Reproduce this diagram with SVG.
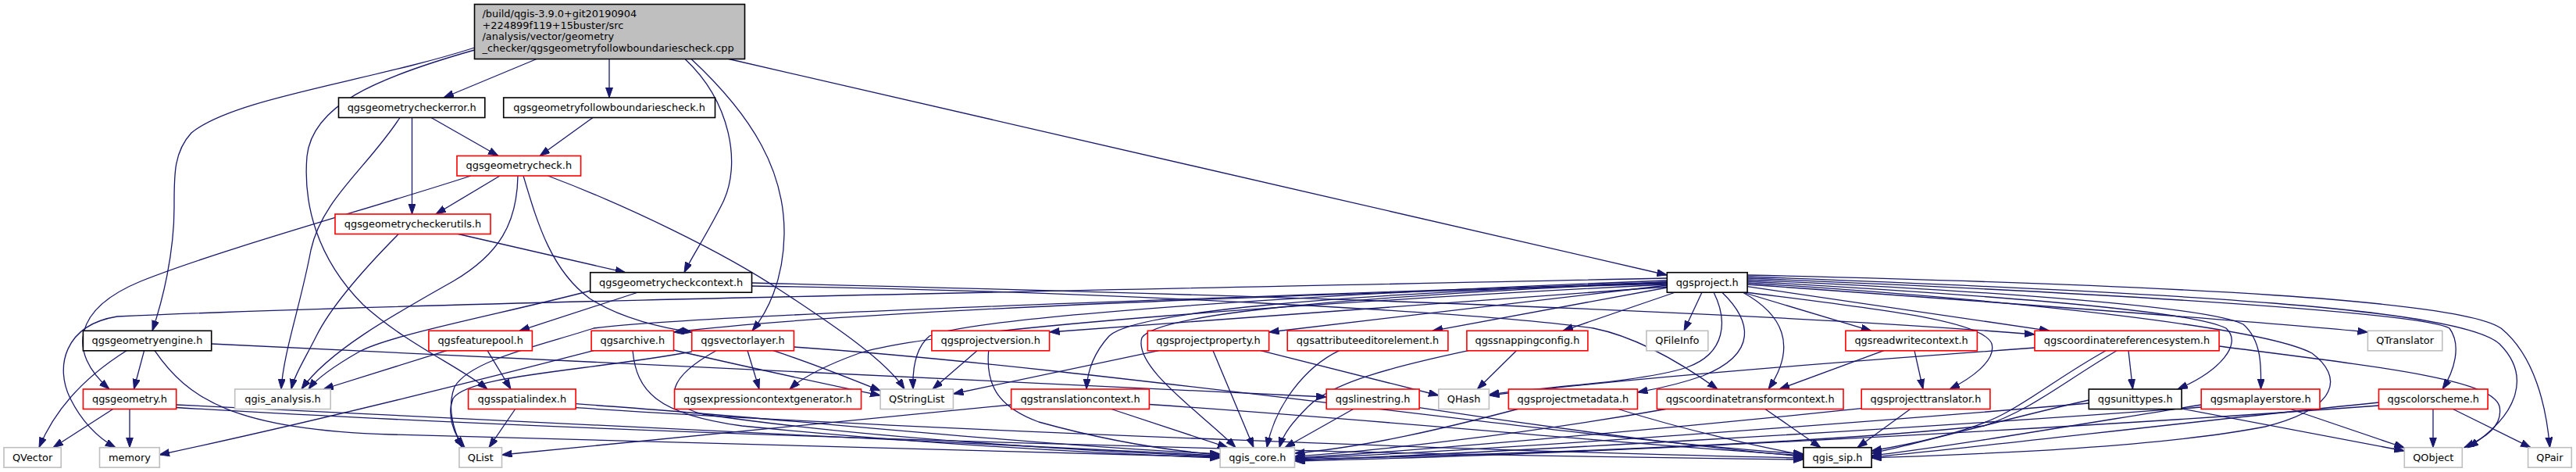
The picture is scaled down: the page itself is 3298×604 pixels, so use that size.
<svg xmlns="http://www.w3.org/2000/svg" width="3298" height="604" viewBox="0 0 3298 604">
<defs>
<style>
.n rect{fill:#fff;stroke-width:1.6}
.b rect{stroke:#000}
.r rect{stroke:#ff0000}
.g rect{stroke:#bfbfbf}
text{font-family:"DejaVu Sans",sans-serif;font-size:12.9px;fill:#000;text-anchor:middle}
.e path{fill:none;stroke:#191970;stroke-width:1.3;marker-end:url(#a)}
</style>
<marker id="a" markerUnits="userSpaceOnUse" markerWidth="15" markerHeight="11" refX="13" refY="4.5" orient="auto"><path d="M0,0 L13,4.5 L0,9 z" fill="#191970" stroke="#191970" stroke-width="1"/></marker>
</defs>
<rect width="3298" height="604" fill="#fff"/>
<g class="e" id="edges">
<path d="M687,75.5 L568,125"/>
<path d="M780,75.5 L780,125"/>
<path d="M607.5,61 C470,105 300,125 245,170 C222,195 223,225 223,265 C223,325 208,385 195,423.3"/>
<path d="M607.5,64 C480,100 400,135 393,200 C388,260 405,330 465,390 C520,440 590,470 624,498"/>
<path d="M877,75.5 C935,130 950,210 925,260 C905,300 885,330 876,348.7"/>
<path d="M885,75.5 C965,150 1005,220 1004,300 C1003,360 982,400 963,423.3"/>
<path d="M933,75.5 L2134.3,352"/>
<path d="M512,150.5 C470,215 412,255 398,320 C385,390 363,450 360,498"/>
<path d="M527.5,150.5 L527.5,274"/>
<path d="M552,150.5 L638,199.5"/>
<path d="M759,150.5 L691,199.5"/>
<path d="M603,225 C480,265 280,320 180,360 C95,395 85,450 140,498"/>
<path d="M640,225 L558,274"/>
<path d="M663,225 C662,285 640,325 580,360 C500,405 420,450 386,498"/>
<path d="M670,225 C688,285 705,345 755,382 C795,408 850,420 886,425"/>
<path d="M701.5,225 C800,262 925,322 1000,372 C1070,418 1135,462 1158,498"/>
<path d="M510.7,299 C470,340 425,390 405,430 C390,460 377,480 373,498"/>
<path d="M584.6,299 L800.7,348.7"/>
<path d="M756,372 C650,400 500,428 460,450 C425,470 405,485 395,498"/>
<path d="M817,374 L665,423.3"/>
<path d="M962.5,362 C1500,375 2200,395 2605,428"/>
<path d="M962.5,366 C1400,372 1900,400 2040,420 C2100,432 2160,470 2199,498"/>
<path d="M162,448.7 C112,480 72,520 50,572.7"/>
<path d="M184.6,448.7 L171.4,498"/>
<path d="M198,448.7 C240,510 300,550 500,556 C900,566 1300,579 1562,585"/>
<path d="M270.7,440 L1698.2,508"/>
<path d="M144.6,523.5 L68,572.7"/>
<path d="M166,523.5 L166,572.7"/>
<path d="M225.7,518 C700,540 1200,568 1562,583"/>
<path d="M225.7,521.5 C900,562 1900,584 2309,588"/>
<path d="M572,448.7 L414,498"/>
<path d="M624,448.7 L654,498"/>
<path d="M760,448.7 C600,490 400,540 204,582"/>
<path d="M862.5,448 C950,468 1050,490 1127.1,506"/>
<path d="M810,448.7 C815,500 840,530 950,545 C1200,570 1400,580 1562,586"/>
<path d="M957,448.7 L972,498"/>
<path d="M885.7,450 C750,475 600,480 580,510 C572,530 580,555 595,572.7"/>
<path d="M990,448.7 C1040,465 1090,485 1127.1,500"/>
<path d="M916.8,448.7 C860,480 840,515 900,530 C1100,560 1400,578 1562,584"/>
<path d="M1016.4,444 C1400,470 2000,560 2309,581"/>
<path d="M659.6,523.5 L626,572.7"/>
<path d="M737,516.7 C1000,535 1300,568 1562,581"/>
<path d="M737,521.7 C1200,552 2000,580 2309,586"/>
<path d="M1294.6,518 C1000,545 800,566 642.5,582"/>
<path d="M1422.9,523.5 L1572,572.7"/>
<path d="M1471.4,517.5 C1800,540 2100,570 2309,583"/>
<path d="M1251,448.7 L1194,498"/>
<path d="M1265.7,448.7 C1262,490 1275,520 1330,540 C1420,565 1500,577 1562,582"/>
<path d="M1483.6,448.7 L1220.4,504"/>
<path d="M1553,448.7 L1605,572.7"/>
<path d="M1614,448.7 L1841.8,506"/>
<path d="M1714.6,448.7 C1670,470 1632,520 1622,572.7"/>
<path d="M1880,448.7 C1780,470 1705,490 1675,520 C1655,540 1643,555 1638,572.7"/>
<path d="M1941.4,448.7 L1891.4,498"/>
<path d="M1732.5,523.5 L1645,572.7"/>
<path d="M1817,521.7 C2000,550 2200,575 2309,584"/>
<path d="M1943,523.5 C1850,548 1750,572 1657.5,580"/>
<path d="M2071.8,523.5 C2150,548 2250,572 2309,582"/>
<path d="M2132.5,523.5 C1950,556 1750,578 1657.5,584"/>
<path d="M2260,523.5 L2331,572.7"/>
<path d="M2383,522.7 C2100,552 1800,578 1657.5,586"/>
<path d="M2445.7,523.5 L2378,572.7"/>
<path d="M2411.8,448.7 L2278,498"/>
<path d="M2451,448.7 L2462,498"/>
<path d="M2725,448.7 L2730.5,498"/>
<path d="M2841,443 C3050,470 3190,485 3200,520 C3205,545 3182,560 3155,572.7"/>
<path d="M2605,445 C2400,460 2100,482 1906.4,506"/>
<path d="M2696,448.7 C2640,480 2610,505 2570,527 C2530,550 2460,566 2396,577"/>
<path d="M2710,448.7 C2640,490 2600,525 2540,545 C2300,570 1900,582 1657.5,588"/>
<path d="M2793,523 L3078.3,577"/>
<path d="M2674.3,512 C2550,540 2450,570 2396,580"/>
<path d="M2674.3,516 C2300,548 1900,576 1657.5,587"/>
<path d="M2932.6,523.5 L3078.3,573"/>
<path d="M2818.2,518 C2650,545 2480,574 2396,583"/>
<path d="M2818.2,521 C2400,552 1900,580 1657.5,589"/>
<path d="M3115,523.5 L3115,572.7"/>
<path d="M3140.5,523.5 L3240,572.7"/>
<path d="M3045.5,515 C2800,540 2500,576 2396,585"/>
<path d="M3045.5,519 C2600,552 2000,582 1657.5,590"/>
<path d="M2134.3,367 L1343.6,425"/>
<path d="M2134.3,365 L1624.6,425"/>
<path d="M2134.3,368 L1834,423.3"/>
<path d="M2145,374 L2001,423.3"/>
<path d="M2179,374 L2156,423.3"/>
<path d="M2194,374 C2212,410 2210,452 2160,470 C2100,490 1960,496 1906.4,505"/>
<path d="M2204.6,374 C2242,410 2252,452 2180,481 C2140,495 2112,499 2096.4,502"/>
<path d="M2231,374 C2282,402 2302,442 2264,498"/>
<path d="M2231,374 L2395.7,423.3"/>
<path d="M2235,374 C2400,395 2540,410 2550,440 C2556,462 2522,485 2496,498"/>
<path d="M2237,366.7 L2624,423.3"/>
<path d="M2237,360 C2500,375 2800,395 2850,420 C2872,440 2842,475 2788,498"/>
<path d="M2237,358 C2500,370 2822,390 2872,415 C2896,436 2895,470 2894.5,498"/>
<path d="M2237,362 C2600,385 2900,420 2960,452 C3000,482 2995,522 2900,546 C2750,575 2500,582 2396,586"/>
<path d="M2237,364 C2600,390 2900,412 3031.4,425"/>
<path d="M2237,356 C2700,375 3100,400 3136,420 C3152,442 3142,475 3127,498"/>
<path d="M2237,354 C2800,375 3150,395 3200,440 C3240,480 3226,530 3160,572.7"/>
<path d="M2237,352 C2800,365 3152,385 3202,420 C3245,455 3260,520 3264.5,572.7"/>
<path d="M2134.3,356 C1500,370 600,385 150,405 C82,416 70,470 90,510 C105,540 125,560 148,572.7"/>
<path d="M2134.3,363 C1700,376 1100,396 862.5,425"/>
<path d="M2134.3,361 C1600,380 900,402 760,420 C700,440 602,460 582,495 C572,520 580,550 592,572.7"/>
<path d="M2134.3,364 C1700,386 1200,420 1100,452 C1050,470 1025,485 1011,498"/>
<path d="M2134.3,359 C1700,375 1250,405 1190,430 C1172,445 1168,470 1169,498"/>
<path d="M2134.3,362 C1700,376 1450,400 1420,430 C1400,452 1392,476 1391,498"/>
<path d="M2134.3,361 C1700,381 1482,402 1462,432 C1450,470 1540,530 1582,572.7"/>
</g>
<g id="n_root"><rect x="607.5" y="5.5" width="346" height="70" fill="#bfbfbf" stroke="#000" stroke-width="1.6"/>
<text x="617.5" y="21.8" style="text-anchor:start">/build/qgis-3.9.0+git20190904</text>
<text x="617.5" y="36.5" style="text-anchor:start">+224899f119+15buster/src</text>
<text x="617.5" y="51.2" style="text-anchor:start">/analysis/vector/geometry</text>
<text x="617.5" y="65.9" style="text-anchor:start">_checker/qgsgeometryfollowboundariescheck.cpp</text></g>
<g id="n_checkerror" class="n b"><rect x="433.5" y="125" width="187.3" height="25.5"/><text x="527.2" y="141.8">qgsgeometrycheckerror.h</text></g>
<g id="n_followboundaries" class="n b"><rect x="644.7" y="125" width="270.8" height="25.5"/><text x="780.1" y="141.8">qgsgeometryfollowboundariescheck.h</text></g>
<g id="n_geometrycheck" class="n r"><rect x="585" y="199.5" width="158.6" height="25.5"/><text x="664.3" y="216.3">qgsgeometrycheck.h</text></g>
<g id="n_checkerutils" class="n r"><rect x="429" y="274" width="199" height="25.5"/><text x="528.5" y="290.8">qgsgeometrycheckerutils.h</text></g>
<g id="n_checkcontext" class="n b"><rect x="755.7" y="348.7" width="206.8" height="25.5"/><text x="859.1" y="365.5">qgsgeometrycheckcontext.h</text></g>
<g id="n_project" class="n b"><rect x="2134.3" y="348.7" width="102.8" height="25.5"/><text x="2185.7" y="365.5">qgsproject.h</text></g>
<g id="n_geometryengine" class="n b"><rect x="106.4" y="423.3" width="164.3" height="25.5"/><text x="188.5" y="440.1">qgsgeometryengine.h</text></g>
<g id="n_featurepool" class="n r"><rect x="548.9" y="423.3" width="132.5" height="25.5"/><text x="615.1" y="440.1">qgsfeaturepool.h</text></g>
<g id="n_archive" class="n r"><rect x="757.1" y="423.3" width="105.4" height="25.5"/><text x="809.8" y="440.1">qgsarchive.h</text></g>
<g id="n_vectorlayer" class="n r"><rect x="885.7" y="423.3" width="130.7" height="25.5"/><text x="951" y="440.1">qgsvectorlayer.h</text></g>
<g id="n_projectversion" class="n r"><rect x="1192.9" y="423.3" width="150.7" height="25.5"/><text x="1268.2" y="440.1">qgsprojectversion.h</text></g>
<g id="n_projectproperty" class="n r"><rect x="1469.3" y="423.3" width="155.3" height="25.5"/><text x="1547" y="440.1">qgsprojectproperty.h</text></g>
<g id="n_attributeeditorelement" class="n r"><rect x="1648.2" y="423.3" width="205.7" height="25.5"/><text x="1751" y="440.1">qgsattributeeditorelement.h</text></g>
<g id="n_snappingconfig" class="n r"><rect x="1877.9" y="423.3" width="155" height="25.5"/><text x="1955.4" y="440.1">qgssnappingconfig.h</text></g>
<g id="n_qfileinfo" class="n g"><rect x="2107.9" y="423.3" width="78.9" height="25.5"/><text x="2147.3" y="440.1">QFileInfo</text></g>
<g id="n_readwritecontext" class="n r"><rect x="2362.9" y="423.3" width="168.5" height="25.5"/><text x="2447.1" y="440.1">qgsreadwritecontext.h</text></g>
<g id="n_crs" class="n r"><rect x="2605" y="423.3" width="236.1" height="25.5"/><text x="2723" y="440.1">qgscoordinatereferencesystem.h</text></g>
<g id="n_qtranslator" class="n g"><rect x="3031.4" y="423.3" width="95.4" height="25.5"/><text x="3079.1" y="440.1">QTranslator</text></g>
<g id="n_geometry" class="n r"><rect x="106.4" y="498" width="119.3" height="25.5"/><text x="166" y="514.8">qgsgeometry.h</text></g>
<g id="n_qgis_analysis" class="n g"><rect x="300.7" y="498" width="122.5" height="25.5"/><text x="362" y="514.8">qgis_analysis.h</text></g>
<g id="n_spatialindex" class="n r"><rect x="599.6" y="498" width="137.5" height="25.5"/><text x="668.3" y="514.8">qgsspatialindex.h</text></g>
<g id="n_exprctxgen" class="n r"><rect x="863.6" y="498" width="238.9" height="25.5"/><text x="983" y="514.8">qgsexpressioncontextgenerator.h</text></g>
<g id="n_qstringlist" class="n g"><rect x="1127.1" y="498" width="93.3" height="25.5"/><text x="1173.7" y="514.8">QStringList</text></g>
<g id="n_translationcontext" class="n r"><rect x="1294.6" y="498" width="176.8" height="25.5"/><text x="1383" y="514.8">qgstranslationcontext.h</text></g>
<g id="n_linestring" class="n r"><rect x="1698.2" y="498" width="118.9" height="25.5"/><text x="1757.6" y="514.8">qgslinestring.h</text></g>
<g id="n_qhash" class="n g"><rect x="1841.8" y="498" width="64.6" height="25.5"/><text x="1874.1" y="514.8">QHash</text></g>
<g id="n_projectmetadata" class="n r"><rect x="1931.4" y="498" width="165" height="25.5"/><text x="2013.9" y="514.8">qgsprojectmetadata.h</text></g>
<g id="n_ctc" class="n r"><rect x="2121.4" y="498" width="238.6" height="25.5"/><text x="2240.7" y="514.8">qgscoordinatetransformcontext.h</text></g>
<g id="n_projecttranslator" class="n r"><rect x="2383.2" y="498" width="164.7" height="25.5"/><text x="2465.5" y="514.8">qgsprojecttranslator.h</text></g>
<g id="n_unittypes" class="n b"><rect x="2674.3" y="498" width="118.8" height="25.5"/><text x="2733.7" y="514.8">qgsunittypes.h</text></g>
<g id="n_maplayerstore" class="n r"><rect x="2818.2" y="498" width="151.8" height="25.5"/><text x="2894.1" y="514.8">qgsmaplayerstore.h</text></g>
<g id="n_colorscheme" class="n r"><rect x="3045.5" y="498" width="139.6" height="25.5"/><text x="3115.3" y="514.8">qgscolorscheme.h</text></g>
<g id="n_qvector" class="n g"><rect x="5" y="572.7" width="73.2" height="25.5"/><text x="41.6" y="589.5">QVector</text></g>
<g id="n_memory" class="n g"><rect x="127.5" y="572.7" width="76.8" height="25.5"/><text x="165.9" y="589.5">memory</text></g>
<g id="n_qlist" class="n g"><rect x="587.9" y="572.7" width="54.6" height="25.5"/><text x="615.2" y="589.5">QList</text></g>
<g id="n_qgis_core" class="n g"><rect x="1562.1" y="572.7" width="95.4" height="25.5"/><text x="1609.8" y="589.5">qgis_core.h</text></g>
<g id="n_qgis_sip" class="n b"><rect x="2308.9" y="572.7" width="87.2" height="25.5"/><text x="2352.5" y="589.5">qgis_sip.h</text></g>
<g id="n_qobject" class="n g"><rect x="3078.3" y="572.7" width="74" height="25.5"/><text x="3115.3" y="589.5">QObject</text></g>
<g id="n_qpair" class="n g"><rect x="3236.6" y="572.7" width="55.7" height="25.5"/><text x="3264.4" y="589.5">QPair</text></g>
</svg>
